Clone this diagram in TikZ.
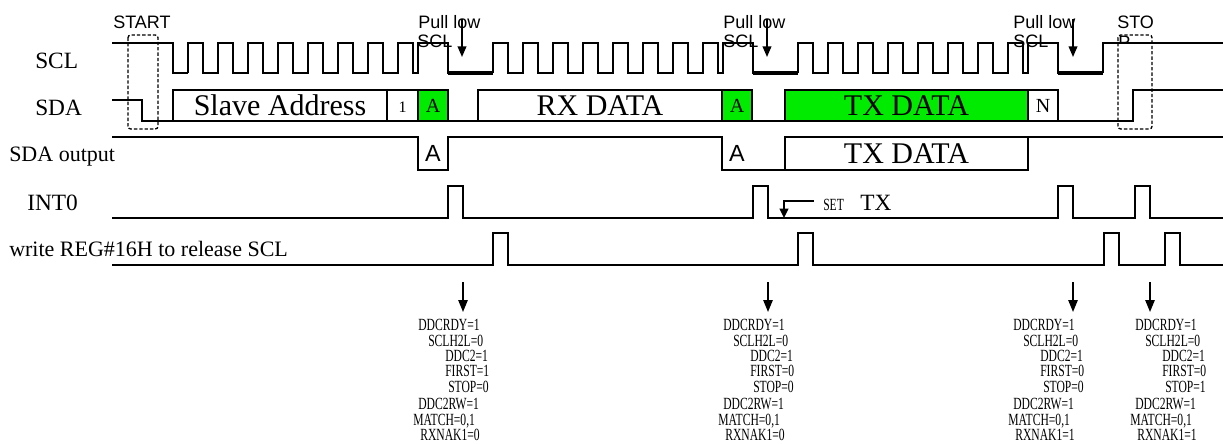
\documentclass[tikz,border=0pt]{standalone}
\usepackage{fontspec}
\setmainfont{Liberation Serif}
\newfontfamily\arialfont{Liberation Sans}
\newfontfamily\narrowfont[FakeStretch=0.68]{Liberation Serif}
\usetikzlibrary{arrows.meta}
\definecolor{ackgreen}{RGB}{0,235,0}

\newcommand{\regstate}[5]{%
  \node[regline] (#1rdy) at (#2,330) {DDCRDY=1};
  \node[regline] (#1h2l) at (#2+10,346) {SCLH2L=0};
  \node[regline] (#1ddc) at (#2+27,361.5) {DDC2=1};
  \node[regline] (#1fst) at (#2+27,376.5) {FIRST=#3};
  \node[regline] (#1stp) at (#2+30,392.7) {STOP=#4};
  \node[regline] (#1rw) at (#2,409.3) {DDC2RW=1};
  \node[regline] (#1mat) at (#2-5,425) {MATCH=0,1};
  \node[regline] (#1nak) at (#2+2,440.5) {RXNAK1=#5};
}

\begin{document}
\begin{tikzpicture}[x=0.75pt,y=-0.75pt,
    sigwave/.style={line width=1.4pt},
    holdlow/.style={line width=2.8pt},
    dashbox/.style={dash pattern=on 2.5pt off 1.5pt, line width=1pt, rounded corners=2pt},
    siglabel/.style={anchor=base west, inner sep=0pt, font=\fontsize{17.5}{19}\selectfont},
    fieldtext/.style={inner sep=0pt, font=\fontsize{22.5}{24}\selectfont},
    bittext/.style={inner sep=0pt, font=\fontsize{15}{16}\selectfont},
    outack/.style={inner sep=0pt, font=\arialfont\fontsize{17.5}{19}\selectfont},
    pullnote/.style={anchor=base west, inner sep=0pt, font=\arialfont\fontsize{13.5}{15}\selectfont},
    regline/.style={anchor=base west, inner sep=0pt, font=\narrowfont\fontsize{12.8}{14}\selectfont},
    evarrow/.style={line width=1.3pt, -{Triangle[length=9pt,width=7pt]}},
  ]
    \useasboundingbox (0,0) rectangle (1223,443);

    \node[siglabel] (sclname) at (35,68) {SCL};
    \node[siglabel] (sdaname) at (35,115) {SDA};
    \node[siglabel, font=\fontsize{16.5}{18}\selectfont] (outname) at (9,161) {SDA output};
    \node[siglabel] (intname) at (27,210) {INT0};
    \node[siglabel, font=\fontsize{16.5}{18}\selectfont] (relname) at (9,256.5) {write REG\#16H to release SCL};

    % SCL
    \draw[sigwave] (112,43) -- (173,43) -- (173,73) -- (188,73);
    \foreach \s in {188,493,798} {
      \draw[sigwave] (\s,73) \foreach \k in {0,...,7} { -- (\s+30*\k,73) -- (\s+30*\k,43) -- (\s+30*\k+15,43) -- (\s+30*\k+15,73) }
        -- (\s+230,73) -- (\s+230,43) -- (\s+260,43) -- (\s+260,73) -- (\s+305,73);
      \draw[holdlow] (\s+260,73) -- (\s+305,73);
    }
    \draw[sigwave] (1103,73) -- (1103,43) -- (1223,43);

    % SDA
    \draw[sigwave] (112,100) -- (142,100) -- (142,121) -- (173,121);
    \draw[sigwave] (173,90) rectangle (387,121);
    \draw[sigwave] (387,90) rectangle (418,121);
    \draw[sigwave, fill=ackgreen] (418,90) rectangle (448,121);
    \draw[sigwave] (448,121) -- (478,121);
    \draw[sigwave] (478,90) rectangle (722,121);
    \draw[sigwave, fill=ackgreen] (722,90) rectangle (752,121);
    \draw[sigwave] (752,121) -- (785,121);
    \draw[sigwave, fill=ackgreen] (785,90) rectangle (1028,121);
    \draw[sigwave] (1028,90) rectangle (1058,121);
    \draw[sigwave] (1058,121) -- (1133,121) -- (1133,90) -- (1223,90);
    \node[fieldtext] (addr) at (280,105.5) {Slave Address};
    \node[bittext, font=\fontsize{12}{13}\selectfont] (rwbit) at (402.5,107) {1};
    \node[bittext] (ack1) at (433,105.5) {A};
    \node[fieldtext] (rxdata) at (600,105.5) {RX DATA};
    \node[bittext] (ack2) at (737,105.5) {A};
    \node[fieldtext] (txdata) at (906.5,105.5) {TX DATA};
    \node[bittext] (nack) at (1043,106) {N};

    \draw[dashbox] (128,35) rectangle (158,129);
    \draw[dashbox] (1118,35) rectangle (1152,129);
    \node[pullnote] (startword) at (113,28) {START};
    \node[pullnote] (stopword) at (1117,28) {STO};
    \begin{scope}
      \clip (1100,0) rectangle (1160,42);
      \node[pullnote] (stopwrap) at (1118,48) {P};
    \end{scope}

    \node[pullnote] (pull1) at (418,28) {Pull low};
    \node[pullnote] (pull1scl) at (417,47) {SCL};
    \node[pullnote] (pull2) at (723,28) {Pull low};
    \node[pullnote] (pull2scl) at (723,47) {SCL};
    \node[pullnote] (pull3) at (1013,28) {Pull low};
    \node[pullnote] (pull3scl) at (1013,47) {SCL};
    \coordinate (hold1top) at (462,19);
    \coordinate (hold1tip) at (462,57);
    \coordinate (hold2top) at (767,19);
    \coordinate (hold2tip) at (767,57);
    \coordinate (hold3top) at (1073,19);
    \coordinate (hold3tip) at (1073,57);
    \draw[evarrow, -{Triangle[length=8pt,width=6.5pt]}] (hold1top) -- (hold1tip);
    \draw[evarrow, -{Triangle[length=8pt,width=6.5pt]}] (hold2top) -- (hold2tip);
    \draw[evarrow, -{Triangle[length=8pt,width=6.5pt]}] (hold3top) -- (hold3tip);

    % SDA output
    \draw[sigwave] (112,137) -- (418,137) -- (418,170) -- (448,170) -- (448,137) -- (722,137) -- (722,170) -- (1028,170) -- (1028,137) -- (1223,137);
    \draw[sigwave] (785,170) -- (785,137) -- (1028,137);
    \node[outack] (outack1) at (433,153.5) {A};
    \node[outack] (outack2) at (737,153.5) {A};
    \node[fieldtext] (outtx) at (906.5,154) {TX DATA};

    % INT0 and release
    \draw[sigwave] (112,218) \foreach \a in {448,753,1058,1135} { -- (\a,218) -- (\a,186) -- (\a+15,186) -- (\a+15,218) } -- (1223,218);
    \draw[sigwave] (112,265) \foreach \a in {493,798,1104,1165} { -- (\a,265) -- (\a,233) -- (\a+15,233) -- (\a+15,265) } -- (1223,265);

    \coordinate (setfrom) at (814,201);
    \coordinate (setto) at (784,218);
    \draw[sigwave, -{Triangle[length=7pt,width=6.5pt]}] (setfrom) -| (setto);
    \node[regline] (setword) at (823,210) {SET};
    \node[siglabel] (txword) at (860,210) {TX};

    % register states
    \regstate{r1}{418}{1}{0}{0}
    \regstate{r2}{723}{0}{0}{0}
    \regstate{r3}{1013}{0}{0}{1}
    \regstate{r4}{1135}{0}{1}{1}
    \coordinate (ev1top) at (463,282);
    \coordinate (ev1tip) at (463,312);
    \coordinate (ev2top) at (768,282);
    \coordinate (ev2tip) at (768,312);
    \coordinate (ev3top) at (1073,282);
    \coordinate (ev3tip) at (1073,312);
    \coordinate (ev4top) at (1150,282);
    \coordinate (ev4tip) at (1150,312);
    \draw[evarrow] (ev1top) -- (ev1tip);
    \draw[evarrow] (ev2top) -- (ev2tip);
    \draw[evarrow] (ev3top) -- (ev3tip);
    \draw[evarrow] (ev4top) -- (ev4tip);
\end{tikzpicture}
\end{document}
